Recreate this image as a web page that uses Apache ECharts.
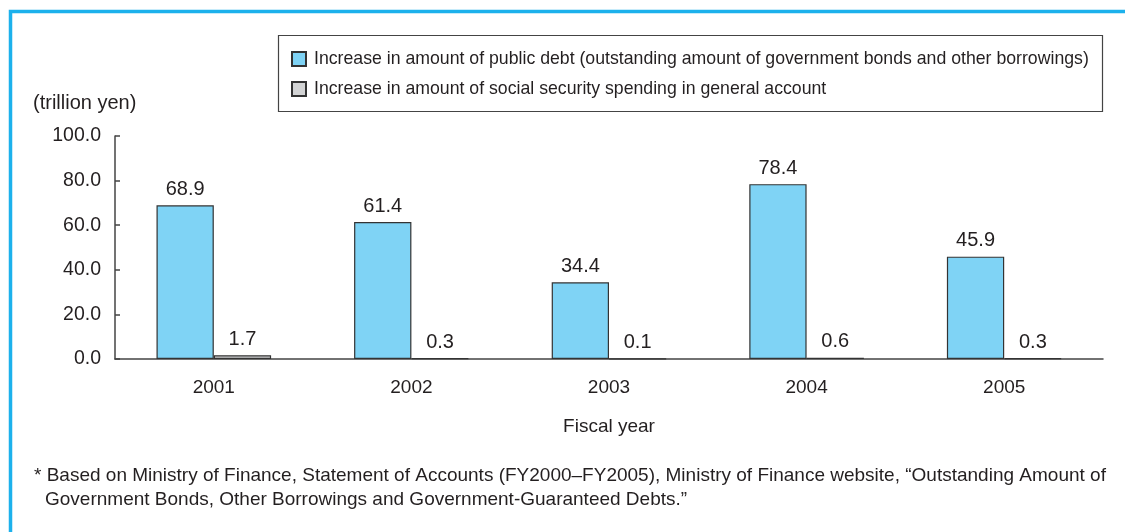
<!DOCTYPE html>
<html>
<head>
<meta charset="utf-8">
<script src="https://cdn.jsdelivr.net/npm/echarts@6/dist/echarts.min.js"></script>
<style>
html,body{margin:0;padding:0;background:#fff;}
#chart{width:1125px;height:532px;}
</style>
</head>
<body>
<div id="chart"></div>
<script>
var categories = ['2001', '2002', '2003', '2004', '2005'];
var publicDebt = [68.9, 61.4, 34.4, 78.4, 45.9];
var socialSecurity = [1.7, 0.3, 0.1, 0.6, 0.3];
var seriesNames = [
  'Increase in amount of public debt (outstanding amount of government bonds and other borrowings)',
  'Increase in amount of social security spending in general account'
];
var yTicks = [0, 20, 40, 60, 80, 100];

var FONT = '"Liberation Sans", Arial, sans-serif';
var TXT = '#231f20';

var chart = echarts.init(document.getElementById('chart'));
chart.setOption({
  animation: false,
  backgroundColor: '#fff',
  textStyle: { fontFamily: FONT, color: TXT },
  grid: { left: 115, right: 22, top: 136, bottom: 173, containLabel: false },
  legend: {
    orient: 'vertical',
    left: 286,
    top: 45,
    itemWidth: 14,
    itemHeight: 14,
    itemGap: 12,
    icon: 'rect',
    textStyle: { fontFamily: FONT, fontSize: 17.7, color: TXT, padding: [0, 0, 0, 3] },
    data: seriesNames
  },
  xAxis: {
    type: 'category',
    data: categories,
    name: 'Fiscal year',
    nameLocation: 'middle',
    nameGap: 58,
    nameTextStyle: { fontFamily: FONT, fontSize: 19, color: TXT },
    axisLine: { lineStyle: { color: '#444', width: 1.5 } },
    axisTick: { inside: true, length: 6, lineStyle: { color: '#444', width: 1.5 } },
    axisLabel: { fontFamily: FONT, fontSize: 19, color: TXT, margin: 19 }
  },
  yAxis: {
    type: 'value',
    min: yTicks[0],
    max: yTicks[yTicks.length - 1],
    interval: 20,
    axisLine: { show: true, lineStyle: { color: '#444', width: 1.5 } },
    axisTick: { show: true, inside: true, length: 5, lineStyle: { color: '#444', width: 1.5 } },
    splitLine: { show: false },
    axisLabel: { fontFamily: FONT, fontSize: 19.5, color: TXT, margin: 14,
      formatter: function (v) { return v.toFixed(1); } }
  },
  series: [
    {
      name: seriesNames[0],
      type: 'bar',
      data: publicDebt,
      barGap: '0%',
      barCategoryGap: '42%',
      itemStyle: { color: '#7fd3f5', borderColor: '#333', borderWidth: 1.2 },
      label: { show: true, position: 'top', distance: 6, fontFamily: FONT, fontSize: 20, color: TXT,
        formatter: function (p) { return p.value.toFixed(1); } }
    },
    {
      name: seriesNames[1],
      type: 'bar',
      data: socialSecurity,
      itemStyle: { color: '#d2d3d4', borderColor: '#333', borderWidth: 1.2 },
      label: { show: true, position: 'top', distance: 6, fontFamily: FONT, fontSize: 20, color: TXT,
        formatter: function (p) { return p.value.toFixed(1); } }
    }
  ],
  graphic: [
    { type: 'rect', left: 8, top: 9, silent: true,
      shape: { width: 1300, height: 700 },
      style: { fill: 'none', stroke: '#1cb1ec', lineWidth: 3.5 } },
    { type: 'rect', left: 276, top: 33, silent: true,
      shape: { width: 824, height: 76 },
      style: { fill: 'none', stroke: '#444', lineWidth: 1.2 } },
    { type: 'text', left: 33, top: 93,
      style: { text: '(trillion yen)', font: '20px ' + FONT, fill: TXT } },
    { type: 'text', left: 34, top: 466,
      style: { text: '* Based on Ministry of Finance, Statement of Accounts (FY2000\u2013FY2005), Ministry of Finance website, \u201cOutstanding Amount of', font: '19px ' + FONT, fill: TXT } },
    { type: 'text', left: 45, top: 490,
      style: { text: 'Government Bonds, Other Borrowings and Government-Guaranteed Debts.\u201d', font: '19px ' + FONT, fill: TXT } }
  ]
});
</script>
</body>
</html>
